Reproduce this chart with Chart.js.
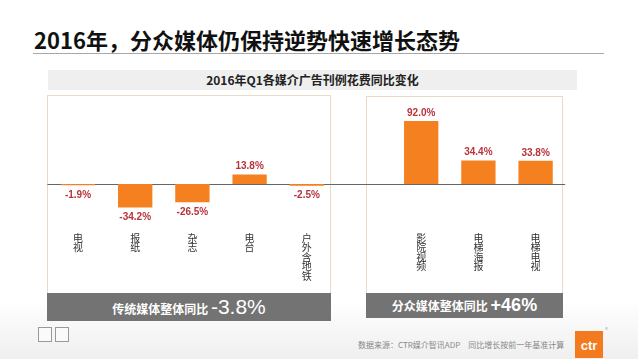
<!DOCTYPE html>
<html>
<head>
<meta charset="utf-8">
<script src="https://cdn.jsdelivr.net/npm/chart.js@4"></script>
<style>
  body { margin: 0; width: 638px; height: 359px; overflow: hidden; background: #fff; font-family: "Noto Sans CJK SC", sans-serif; position: relative; }
  .abs { position: absolute; }
  #title { left: 34px; top: 27px; font-size: 22px; line-height: 25px; font-weight: bold; color: #111; white-space: nowrap; }
  #rule { left: 33px; top: 53px; width: 571px; height: 1px; background: #a8a8a8; }
  #band { left: 48px; top: 70px; width: 529px; height: 20px; background: #efefef; text-align: center; font-size: 12px; line-height: 20px; font-weight: bold; color: #222; }
  .panel { border: 1px solid #ead9c6; box-sizing: border-box; background: #fff; }
  .foot { background: #737373; color: #fff; text-align: center; white-space: nowrap; font-weight: bold; }
  .foot .big { font-family: "Liberation Sans", Arial, sans-serif; font-weight: normal; }
  #src { left: 358px; top: 339px; font-size: 8px; color: #888; white-space: nowrap; }
  #logo { left: 575px; top: 331px; width: 28px; height: 27px; background: #f47a20; color: #fff; font: bold 13px "Liberation Sans", Arial, sans-serif; text-align: center; line-height: 30px; }
  #reg { left: 605px; top: 325px; font-size: 6px; color: #aaa; }
  .icon { top: 327px; width: 14px; height: 15px; border: 1px solid #999; box-sizing: border-box; background: #fafafa; }
  #shade { left: 0; top: 300px; width: 638px; height: 59px; background: linear-gradient(180deg, rgba(255,255,255,0) 0%, #efefef 100%); }
  #chartBox { left: 0; top: 0; width: 638px; height: 359px; }
</style>
</head>
<body>
<div id="shade" class="abs"></div>
<div id="title" class="abs">2016年，分众媒体仍保持逆势快速增长态势</div>
<div id="rule" class="abs"></div>
<div id="band" class="abs">2016年Q1各媒介广告刊例花费同比变化</div>
<div class="abs panel" style="left:47px;top:95px;width:284px;height:199px;"></div>
<div class="abs panel" style="left:366px;top:96px;width:197px;height:198px;"></div>
<div class="abs foot" style="left:47px;top:293px;width:284px;height:28px;line-height:28px;font-size:12px;">传统媒体整体同比 <span class="big" style="font-size:21px;">-3.8%</span></div>
<div class="abs foot" style="left:366px;top:293px;width:197px;height:25px;line-height:25px;font-size:12px;">分众媒体整体同比 <span class="big" style="font-size:18px;font-weight:bold;">+46%</span></div>
<div class="abs icon" style="left:38px;"></div>
<div class="abs icon" style="left:55px;"></div>
<div id="src" class="abs">数据来源：CTR媒介智讯ADP　同比增长按前一年基准计算</div>
<div id="logo" class="abs">ctr</div>
<div id="reg" class="abs">®</div>
<div id="chartBox" class="abs"><canvas id="c" width="638" height="359"></canvas></div>

<script>
// media categories; the empty slot is the gap between the two panels
const categories = ['电视', '报纸', '杂志', '电台', '户外含地铁', '', '影院视频', '电梯海报', '电梯电视'];
const yoyChange = [-1.9, -34.2, -26.5, 13.8, -2.5, null, 92.0, 34.4, 33.8];

Chart.defaults.font.family = '"Noto Sans CJK SC", sans-serif';

// value labels above / below each bar
const valueLabels = {
  id: 'valueLabels',
  afterDatasetsDraw(chart) {
    const ctx = chart.ctx;
    const meta = chart.getDatasetMeta(0);
    ctx.save();
    ctx.font = 'bold 10px "Liberation Sans", Arial, sans-serif';
    ctx.fillStyle = '#b8333a';
    ctx.textAlign = 'center';
    meta.data.forEach((bar, i) => {
      const v = yoyChange[i];
      if (v == null) return;
      const txt = v.toFixed(1) + '%';
      if (v >= 0) {
        ctx.textBaseline = 'bottom';
        ctx.fillText(txt, bar.x, bar.y - 3);
      } else {
        ctx.textBaseline = 'top';
        ctx.fillText(txt, bar.x, bar.y + 5);
      }
    });
    ctx.restore();
  }
};

// zero line across both panels
const zeroLine = {
  id: 'zeroLine',
  beforeDatasetsDraw(chart) {
    const { ctx, chartArea, scales } = chart;
    const y = Math.round(scales.y.getPixelForValue(0)) + 0.5;
    ctx.save();
    ctx.strokeStyle = '#666';
    ctx.lineWidth = 1;
    ctx.beginPath();
    ctx.moveTo(chartArea.left - 2, y);
    ctx.lineTo(chartArea.right + 1, y);
    ctx.stroke();
    ctx.restore();
  }
};

new Chart(document.getElementById('c'), {
  type: 'bar',
  data: {
    labels: categories.map(c => c.split('')),
    datasets: [{
      data: yoyChange,
      backgroundColor: '#f5801f',
      categoryPercentage: 1,
      barPercentage: 0.6,
    }],
  },
  options: {
    responsive: false,
    animation: false,
    layout: { padding: { left: 49.4, right: 73.8, top: 115.5, bottom: 70 } },
    plugins: { legend: { display: false }, tooltip: { enabled: false } },
    scales: {
      x: {
        grid: { display: false },
        border: { display: false },
        ticks: { color: '#333', font: { size: 10, lineHeight: 0.95 }, padding: 7, maxRotation: 0, autoSkip: false },
        afterFit(scale) { scale.height = 70.75; },
      },
      y: { display: false, min: -50, max: 100 },
    },
  },
  plugins: [zeroLine, valueLabels],
});
</script>
</body>
</html>
